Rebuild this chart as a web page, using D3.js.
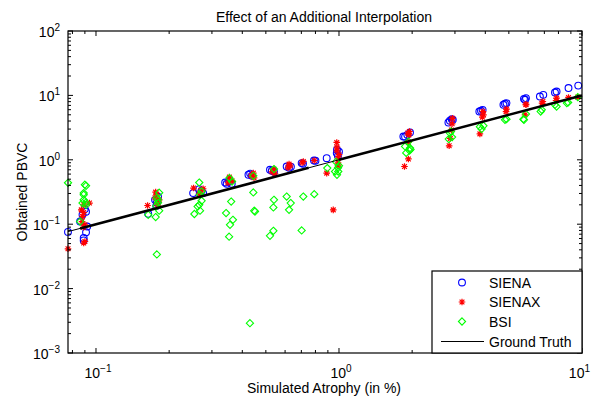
<!DOCTYPE html>
<html><head><meta charset="utf-8">
<script src="https://cdn.jsdelivr.net/npm/d3@7"></script>
<style>body{margin:0;background:#fff}svg{display:block}text{font-family:"Liberation Sans",Arial,sans-serif}</style>
</head><body><svg id="c" width="592" height="401"></svg>
<script>
const title = "Effect of an Additional Interpolation";
const xLabel = "Simulated Atrophy (in %)";
const yLabel = "Obtained PBVC";
const xDomain = [0.0767, 10];
const yDomain = [1e-3, 1e2];
const xTickExponents = [-1, 0, 1];
const yTickExponents = [-3, -2, -1, 0, 1, 2];
const legendLabels = ["SIENA", "SIENAX", "BSI", "Ground Truth"];

const siena = [
 [0.0767,0.076],
 [0.090,0.172],[0.091,0.156],[0.088,0.140],[0.086,0.110],[0.092,0.092],[0.091,0.075],[0.089,0.061],[0.089,0.056],
 [0.164,0.145],[0.175,0.239],[0.178,0.215],[0.180,0.267],[0.177,0.192],
 [0.251,0.304],[0.272,0.330],[0.266,0.350],[0.276,0.304],
 [0.340,0.444],[0.362,0.424],[0.353,0.460],[0.345,0.424],
 [0.424,0.585],[0.438,0.565],[0.431,0.610],
 [0.529,0.675],[0.520,0.700],[0.540,0.651],
 [0.609,0.787],[0.623,0.751],[0.634,0.780],
 [0.702,0.889],[0.711,0.866],
 [0.789,0.975],[0.800,0.965],
 [0.890,1.06],
 [0.979,1.27],[0.990,1.15],[0.981,1.43],[1.0,1.33],
 [1.84,2.30],[1.91,2.44],[1.96,2.65],[1.87,2.28],
 [2.82,3.79],[2.91,4.28],[2.86,4.03],[2.94,4.18],
 [3.78,5.62],[3.90,5.97],[3.84,5.78],
 [4.75,7.14],[4.89,7.59],[4.82,7.40],
 [5.83,8.54],[5.88,9.08],[5.77,8.84],
 [6.71,9.6],[6.93,10.2],
 [7.74,11.1],[7.86,11.5],
 [8.80,13.0],
 [9.65,14.2]
];
const sienax = [
 [0.0767,0.0415],
 [0.094,0.213],[0.087,0.167],[0.089,0.152],[0.088,0.132],[0.090,0.098],[0.090,0.054],[0.089,0.051],[0.089,0.200],[0.0876,0.110],[0.089,0.090],
 [0.163,0.195],[0.176,0.315],[0.178,0.286],[0.182,0.239],[0.178,0.213],[0.175,0.257],[0.180,0.192],
 [0.252,0.364],[0.270,0.334],[0.266,0.296],[0.276,0.355],
 [0.354,0.539],[0.356,0.489],[0.349,0.440],[0.363,0.470],
 [0.444,0.621],[0.435,0.565],[0.447,0.525],
 [0.540,0.717],[0.530,0.651],[0.545,0.606],
 [0.623,0.857],[0.617,0.751],[0.629,0.807],
 [0.713,0.942],[0.705,0.900],
 [0.791,0.975],
 [0.890,0.621],
 [0.979,1.86],[0.981,1.57],[0.981,1.38],[0.991,1.06],[0.991,0.898],[0.991,0.807],[1.0,1.20],[0.947,0.167],
 [1.95,2.75],[1.94,2.44],[1.92,2.60],[1.93,1.86],[1.93,1.03],[1.86,0.787],
 [2.93,4.40],[2.92,3.62],[2.90,2.90],[2.87,2.15],[2.84,1.65],
 [3.91,5.60],[3.93,5.00],[3.89,4.60],[3.80,2.53],
 [4.89,6.13],[4.87,5.60],
 [5.88,7.14],[5.88,7.30],[5.83,5.00],
 [6.90,8.04],[6.85,7.59],
 [7.86,9.08],[7.82,8.34],
 [8.80,9.30],
 [9.60,9.40]
];
const bsi = [
 [0.0767,0.44],
 [0.090,0.41],[0.091,0.395],[0.089,0.286],[0.089,0.304],[0.089,0.239],[0.091,0.218],[0.088,0.213],[0.091,0.200],[0.086,0.110],
 [0.164,0.140],[0.176,0.129],[0.182,0.162],[0.178,0.0339],[0.178,0.257],[0.182,0.308],[0.180,0.215],[0.177,0.192],[0.180,0.239],
 [0.266,0.444],[0.272,0.322],[0.272,0.231],[0.266,0.200],[0.262,0.188],[0.268,0.162],[0.254,0.144],[0.268,0.286],
 [0.354,0.520],[0.363,0.460],[0.360,0.225],[0.343,0.149],[0.366,0.117],[0.356,0.098],[0.353,0.064],
 [0.444,0.565],[0.444,0.311],[0.448,0.162],[0.451,0.157],[0.430,0.0029],
 [0.540,0.717],[0.540,0.239],[0.537,0.182],[0.537,0.079],[0.520,0.066],
 [0.609,0.269],[0.633,0.213],[0.623,0.167],
 [0.713,0.269],[0.702,0.080],
 [0.791,0.293],
 [0.895,0.743],
 [0.963,0.658],[0.993,0.658],[0.991,0.751],[1.0,0.807],[0.981,0.585],[0.972,0.930],
 [1.87,1.61],[1.96,1.52],[1.95,1.39],[1.93,1.92],[1.89,1.28],[1.97,1.45],
 [2.86,2.60],[2.92,2.25],[2.83,2.10],[2.89,2.75],
 [3.93,3.37],[3.86,3.00],[3.80,3.25],
 [4.82,4.18],[4.89,4.28],
 [5.88,5.13],[5.74,4.28],[5.77,4.18],
 [6.83,5.97],[6.76,5.62],
 [7.74,7.14],[7.86,6.72],
 [8.77,7.76],[8.66,7.59],
 [9.61,9.40]
];
// ground truth y = x; first segment spans the full range, the others are overlapping repeats
const groundTruthSegments = [[0.0767, 10], [0.086, 0.75], [1.0, 10]];

const svg = d3.select("#c");
const L = 68, R = 582, T = 31, B = 353;
const x = d3.scaleLog().domain(xDomain).range([L, R]);
const y = d3.scaleLog().domain(yDomain).range([B, T]);
const FS = 14;

// title & labels
svg.append("text").attr("x", 324).attr("y", 22).attr("text-anchor", "middle")
  .attr("font-size", FS).text(title);
svg.append("text").attr("x", 324).attr("y", 393).attr("text-anchor", "middle")
  .attr("font-size", FS).text(xLabel);
svg.append("text").attr("transform", `translate(27,${(T + B) / 2}) rotate(-90)`)
  .attr("text-anchor", "middle").attr("font-size", FS).text(yLabel);

// data markers
const g = svg.append("g");
const starPath = r => {
  const d = r * 0.72;
  return `M${-r},0L${r},0M0,${-r}L0,${r}M${-d},${-d}L${d},${d}M${-d},${d}L${d},${-d}`;
};
const diamondPath = r => `M0,${-r}L${r},0L0,${r}L${-r},0Z`;

g.selectAll(".siena").data(siena).join("circle")
  .attr("cx", d => x(d[0])).attr("cy", d => y(d[1])).attr("r", 3.4)
  .attr("fill", "none").attr("stroke", "#0000ff").attr("stroke-width", 1.1);
g.selectAll(".sienax").data(sienax).join("path")
  .attr("transform", d => `translate(${x(d[0])},${y(d[1])})`)
  .attr("d", starPath(3.3)).attr("fill", "none").attr("stroke", "#ff0000").attr("stroke-width", 1.2);
g.selectAll(".bsi").data(bsi).join("path")
  .attr("transform", d => `translate(${x(d[0])},${y(d[1])})`)
  .attr("d", diamondPath(3.6)).attr("fill", "none").attr("stroke", "#00ff00").attr("stroke-width", 1.1);

// ground truth
groundTruthSegments.forEach((s, i) => {
  svg.append("line").attr("x1", x(s[0])).attr("y1", y(s[0])).attr("x2", x(s[1])).attr("y2", y(s[1]))
    .attr("stroke", "#000").attr("stroke-width", i === 0 ? 1 : 2.6);
});

// axes box
svg.append("rect").attr("x", L).attr("y", T).attr("width", R - L).attr("height", B - T)
  .attr("fill", "none").attr("stroke", "#000").attr("stroke-width", 1.2);

const ax = svg.append("g").attr("stroke", "#000").attr("stroke-width", 1);
const xMinor = [];
for (let e = -2; e <= 1; e++) for (let m = 1; m <= 9; m++) {
  const v = m * Math.pow(10, e);
  if (v >= xDomain[0] && v <= xDomain[1]) xMinor.push({v, major: m === 1});
}
xMinor.forEach(t => {
  const px = x(t.v), len = t.major ? 5 : 3;
  ax.append("line").attr("x1", px).attr("x2", px).attr("y1", B).attr("y2", B - len);
  ax.append("line").attr("x1", px).attr("x2", px).attr("y1", T).attr("y2", T + len);
});
const yMinor = [];
for (let e = -3; e <= 2; e++) for (let m = 1; m <= 9; m++) {
  const v = m * Math.pow(10, e);
  if (v >= yDomain[0] * 0.999 && v <= yDomain[1] * 1.001) yMinor.push({v, major: m === 1});
}
yMinor.forEach(t => {
  const py = y(t.v), len = t.major ? 5 : 3;
  ax.append("line").attr("x1", L).attr("x2", L + len).attr("y1", py).attr("y2", py);
  ax.append("line").attr("x1", R).attr("x2", R - len).attr("y1", py).attr("y2", py);
});

const fmtExp = e => (e < 0 ? "\u2212" + Math.abs(e) : String(e));
xTickExponents.forEach((e, i) => {
  const last = i === xTickExponents.length - 1;
  const t = svg.append("text").attr("x", last ? 590 : x(Math.pow(10, e)) + 2).attr("y", 378)
    .attr("text-anchor", last ? "end" : "middle").attr("font-size", FS);
  t.append("tspan").text("10");
  t.append("tspan").attr("dy", -6).attr("font-size", 10).text(fmtExp(e));
});
yTickExponents.forEach(e => {
  const t = svg.append("text").attr("x", 60).attr("y", y(Math.pow(10, e)) + 6)
    .attr("text-anchor", "end").attr("font-size", FS);
  t.append("tspan").text("10");
  t.append("tspan").attr("dy", -6).attr("font-size", 10).text(fmtExp(e));
});

// legend
const lg = svg.append("g");
lg.append("rect").attr("x", 432).attr("y", 271).attr("width", 150).attr("height", 82)
  .attr("fill", "#fff").attr("stroke", "#000").attr("stroke-width", 1.2);
const rowY = [282.5, 302, 321.5, 341.5];
legendLabels.forEach((lab, i) => {
  lg.append("text").attr("x", 489).attr("y", rowY[i] + 5).attr("font-size", FS).text(lab);
});
lg.append("circle").attr("cx", 462).attr("cy", rowY[0]).attr("r", 3.4)
  .attr("fill", "none").attr("stroke", "#0000ff").attr("stroke-width", 1.1);
lg.append("path").attr("transform", `translate(462,${rowY[1]})`).attr("d", starPath(3.3))
  .attr("fill", "none").attr("stroke", "#ff0000").attr("stroke-width", 1.2);
lg.append("path").attr("transform", `translate(462,${rowY[2]})`).attr("d", diamondPath(3.6))
  .attr("fill", "none").attr("stroke", "#00ff00").attr("stroke-width", 1.1);
lg.append("line").attr("x1", 441).attr("x2", 484).attr("y1", rowY[3]).attr("y2", rowY[3])
  .attr("stroke", "#000").attr("stroke-width", 1);
</script></body></html>
